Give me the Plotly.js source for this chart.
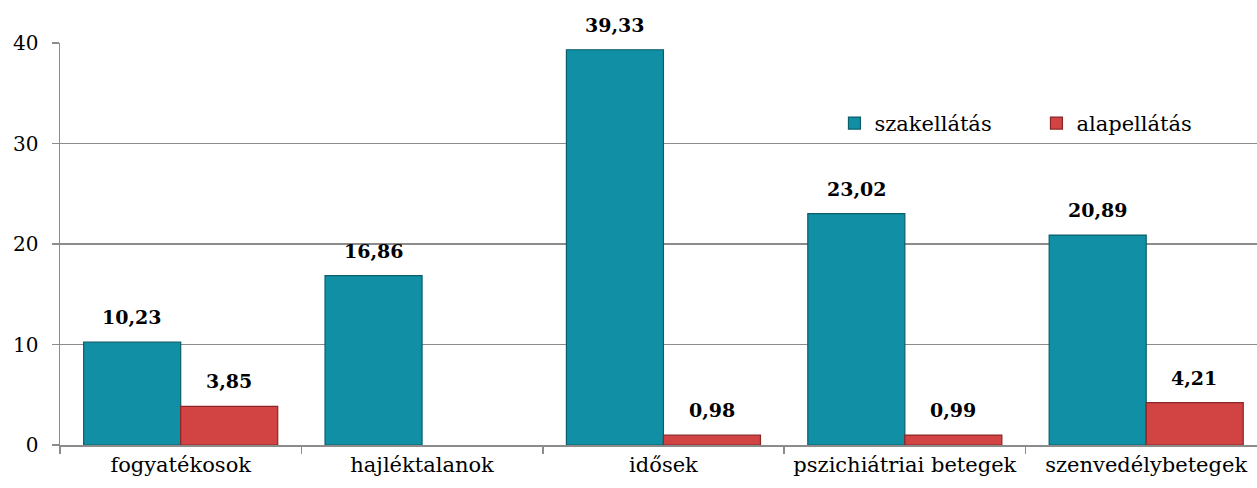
<!DOCTYPE html>
<html>
<head>
<meta charset="utf-8">
<script src="https://cdn.plot.ly/plotly-3.0.1.min.js"></script>
<style>html,body{margin:0;padding:0;background:#fff;}#chart{width:1257px;height:488px;}</style>
</head>
<body>
<div id="chart"></div>
<script>
const categories = ["fogyatékosok", "hajléktalanok", "idősek", "pszichiátriai betegek", "szenvedélybetegek"];
const seriesNames = ["szakellátás", "alapellátás"];
const szakellatas = [10.23, 16.86, 39.33, 23.02, 20.89];
const alapellatas = [3.85, null, 0.98, 0.99, 4.21];
const yTicks = [0, 10, 20, 30, 40];

const FONT = "'DejaVu Serif', 'Liberation Serif', serif";
const fmt = v => v.toFixed(2).replace('.', ',');

const traces = [
  {type: 'bar', name: seriesNames[0], x: categories, y: szakellatas,
   marker: {color: '#1190a5', line: {color: '#0a5e6c', width: 1.2}}, hoverinfo: 'y'},
  {type: 'bar', name: seriesNames[1], x: categories, y: alapellatas,
   marker: {color: '#d24444', line: {color: '#8a2626', width: 1.2}}, hoverinfo: 'y'}
];

const annotations = [];
[szakellatas, alapellatas].forEach((arr, s) => {
  arr.forEach((v, i) => {
    if (v === null) return;
    annotations.push({
      xref: 'x', yref: 'y', x: i + (s === 0 ? -0.2 : 0.2), y: v,
      text: '<b>' + fmt(v) + '</b>', showarrow: false,
      yanchor: 'bottom', yshift: 12,
      font: {family: FONT, size: 19, color: '#000'}
    });
  });
});

const layout = {
  width: 1257, height: 488,
  margin: {l: 60, r: 0, t: 43, b: 43, autoexpand: false},
  paper_bgcolor: '#fff', plot_bgcolor: '#fff',
  barmode: 'group', bargap: 0.196, bargroupgap: 0,
  font: {family: FONT, size: 20, color: '#000'},
  showlegend: true,
  legend: {orientation: 'h', x: 0.647, y: 0.80, xanchor: 'left', yanchor: 'middle',
           font: {family: FONT, size: 21, color: '#000'}, itemwidth: 30,
           entrywidth: 157, entrywidthmode: 'pixels',
           traceorder: 'normal', bgcolor: 'rgba(0,0,0,0)', itemclick: false},
  xaxis: {type: 'category', range: [-0.5, 4.459], autorange: false,
          showline: true, linecolor: '#8c8c8c', linewidth: 1.5,
          ticks: 'outside', tickson: 'boundaries', ticklen: 7, tickcolor: '#8c8c8c', tickwidth: 1.5,
          tickfont: {family: FONT, size: 21, color: '#000'}, showgrid: false, zeroline: false, fixedrange: true},
  yaxis: {range: [0, 40], autorange: false, tickvals: yTicks, ticktext: yTicks.map(String),
          showline: true, linecolor: '#8c8c8c', linewidth: 1.5,
          ticks: 'outside', ticklen: 7, tickcolor: '#8c8c8c', tickwidth: 1.5, ticklabelstandoff: 9,
          showgrid: true, gridcolor: '#8c8c8c', gridwidth: 1.5, zeroline: false,
          tickfont: {family: FONT, size: 20, color: '#000'}, fixedrange: true},
  annotations: annotations
};

Plotly.newPlot('chart', traces, layout, {displayModeBar: false, staticPlot: true});
</script>
</body>
</html>
